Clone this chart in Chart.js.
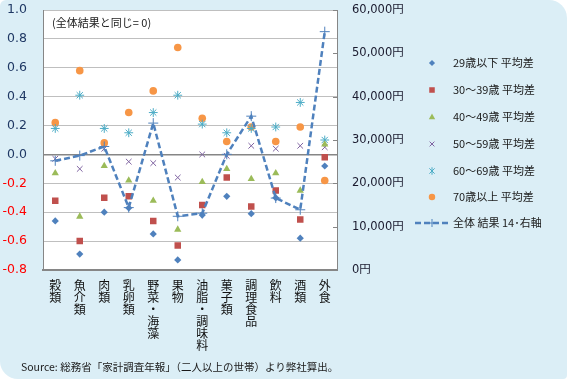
<!DOCTYPE html>
<html>
<head>
<meta charset="utf-8">
<script src="https://cdn.jsdelivr.net/npm/chart.js@4/dist/chart.umd.min.js"></script>
<style>
  html, body { margin: 0; padding: 0; background: #ffffff; }
  #wrap {
    position: relative; width: 567px; height: 379px;
    background: #dbeef6;
    border-radius: 6px 18px 4px 18px;
    overflow: hidden;
  }
  #c { position: absolute; left: 0; top: 0; }
  .txt { position: absolute; font-family: "Noto Sans CJK JP", sans-serif; color: #1a1a1a; white-space: nowrap; }
</style>
</head>
<body>
<div id="wrap">
  <canvas id="c" width="567" height="379"></canvas>
  <div class="txt" style="left:52px; top:14px; font-size:11px;">(全体結果と同じ= 0)</div>
  <div class="txt" style="left:21px; top:359px; font-size:10.5px;">Source: 総務省「家計調査年報」（二人以上の世帯）より弊社算出。</div>
</div>
<script>
const categories = ['穀類', '魚介類', '肉類', '乳卵類', '野菜・海藻', '果物', '油脂・調味料', '菓子類', '調理食品', '飲料', '酒類', '外食'];
const seriesNames = ['29歳以下 平均差', '30～39歳 平均差', '40～49歳 平均差', '50～59歳 平均差', '60～69歳 平均差', '70歳以上 平均差'];
const lineName = '全体 結果 14･右軸';
const age29 = [-0.46, -0.69, -0.40, -0.37, -0.55, -0.73, -0.42, -0.29, -0.41, -0.30, -0.58, -0.08];
const age30 = [-0.32, -0.60, -0.30, -0.29, -0.46, -0.63, -0.35, -0.16, -0.36, -0.25, -0.45, -0.02];
const age40 = [-0.13, -0.43, -0.08, -0.18, -0.32, -0.52, -0.19, -0.10, -0.17, -0.13, -0.25, 0.07];
const age50 = [-0.03, -0.10, 0.04, -0.05, -0.06, -0.16, 0.00, -0.01, 0.06, 0.04, 0.06, 0.05];
const age60 = [0.18, 0.41, 0.18, 0.15, 0.29, 0.41, 0.21, 0.15, 0.18, 0.19, 0.36, 0.10];
const age70 = [0.22, 0.58, 0.08, 0.29, 0.44, 0.74, 0.25, 0.09, 0.19, 0.09, 0.19, -0.18];
const totalYen = [25200, 26400, 28500, 14400, 33900, 12400, 13100, 26700, 35500, 16600, 13900, 55000];
const leftTicks = [-0.8, -0.6, -0.4, -0.2, 0.0, 0.2, 0.4, 0.6, 0.8, 1.0];
const rightTicks = [0, 10000, 20000, 30000, 40000, 50000, 60000];

const colors = ['#4f81bd', '#c0504d', '#9bbb59', '#8064a2', '#4bacc6', '#f79646'];
const styles = ['rectRot', 'rect', 'triangle', 'crossRot', 'star', 'circle'];
const radii = [3.6, 4.6, 4.2, 4, 4.4, 3.8];
const ageData = [age29, age30, age40, age50, age60, age70];

const labelsVertical = categories.map(s => s.split(''));

function drawMarker(ctx, style, x, y, r, color) {
  ctx.save();
  ctx.fillStyle = color; ctx.strokeStyle = color; ctx.lineWidth = 1;
  ctx.beginPath();
  if (style === 'rectRot') {
    ctx.moveTo(x, y - r); ctx.lineTo(x + r, y); ctx.lineTo(x, y + r); ctx.lineTo(x - r, y); ctx.closePath(); ctx.fill();
  } else if (style === 'rect') {
    const s = r * Math.SQRT1_2;
    ctx.rect(x - s, y - s, 2 * s, 2 * s); ctx.fill();
  } else if (style === 'triangle') {
    ctx.moveTo(x, y - r); ctx.lineTo(x + r * 0.9, y + r * 0.6); ctx.lineTo(x - r * 0.9, y + r * 0.6); ctx.closePath(); ctx.fill();
  } else if (style === 'crossRot') {
    const s = r * Math.SQRT1_2;
    ctx.moveTo(x - s, y - s); ctx.lineTo(x + s, y + s); ctx.moveTo(x + s, y - s); ctx.lineTo(x - s, y + s); ctx.stroke();
  } else if (style === 'star') {
    const s = r * Math.SQRT1_2;
    ctx.moveTo(x, y - r); ctx.lineTo(x, y + r);
    ctx.moveTo(x - s, y - s); ctx.lineTo(x + s, y + s); ctx.moveTo(x + s, y - s); ctx.lineTo(x - s, y + s); ctx.stroke();
  } else if (style === 'circle') {
    ctx.arc(x, y, r, 0, Math.PI * 2); ctx.fill();
  }
  ctx.restore();
}

const customPlugin = {
  id: 'custom',
  beforeDraw(chart) {
    const { ctx, chartArea: a } = chart;
    ctx.save();
    ctx.fillStyle = '#ffffff';
    ctx.fillRect(a.left, a.top, a.right - a.left, a.bottom - a.top);
    ctx.restore();
  },
  afterDraw(chart) {
    const { ctx, chartArea: a } = chart;
    const y1 = chart.scales.y1;
    ctx.save();
    ctx.strokeStyle = '#868686'; ctx.lineWidth = 1;
    y1.ticks.forEach(t => {
      const yy = Math.round(y1.getPixelForValue(t.value)) + 0.5;
      ctx.beginPath(); ctx.moveTo(a.right - 4, yy); ctx.lineTo(a.right, yy); ctx.stroke();
    });
    ctx.restore();
    const mx = 432, tx = 453;
    const ys = [63, 90, 117, 144, 171, 197, 223];
    ctx.save();
    ctx.font = '11px "Noto Sans CJK JP", sans-serif';
    ctx.textBaseline = 'middle';
    for (let i = 0; i < seriesNames.length; i++) {
      drawMarker(ctx, styles[i], mx, ys[i], radii[i] * 0.85, colors[i]);
      ctx.fillStyle = '#1a1a1a';
      ctx.fillText(seriesNames[i], tx, ys[i]);
    }
    const ly = ys[6];
    ctx.strokeStyle = '#4f81bd'; ctx.lineWidth = 2.5; ctx.setLineDash([6, 3]);
    ctx.beginPath(); ctx.moveTo(415, ly); ctx.lineTo(449, ly); ctx.stroke();
    ctx.setLineDash([]); ctx.lineWidth = 1;
    ctx.beginPath(); ctx.moveTo(mx - 4, ly); ctx.lineTo(mx + 4, ly); ctx.moveTo(mx, ly - 4); ctx.lineTo(mx, ly + 4); ctx.stroke();
    ctx.fillStyle = '#1a1a1a';
    ctx.fillText(lineName, tx, ly);
    ctx.restore();
  }
};

const datasets = [{
  label: lineName,
  data: totalYen,
  yAxisID: 'y1',
  borderColor: '#4f81bd',
  borderWidth: 2.5,
  borderDash: [6, 3],
  pointStyle: 'cross',
  pointRadius: 5,
  pointBorderWidth: 1,
  pointBorderColor: '#4f81bd',
  pointBackgroundColor: '#4f81bd',
  tension: 0,
  fill: false,
  order: 0
}];
for (let i = 0; i < 6; i++) {
  datasets.push({
    label: seriesNames[i],
    data: ageData[i],
    yAxisID: 'y',
    showLine: false,
    pointStyle: styles[i],
    pointRadius: radii[i],
    pointBorderWidth: (styles[i] === 'crossRot' || styles[i] === 'star') ? 1 : 0,
    pointBackgroundColor: colors[i],
    pointBorderColor: colors[i],
    order: 1
  });
}

new Chart(document.getElementById('c'), {
  type: 'line',
  data: { labels: labelsVertical, datasets },
  plugins: [customPlugin],
  options: {
    responsive: false,
    animation: false,
    devicePixelRatio: 1,
    layout: { padding: { top: 10, left: 0, right: 0, bottom: 0 } },
    plugins: { legend: { display: false }, tooltip: { enabled: false } },
    scales: {
      x: {
        offset: true,
        grid: { display: false, drawTicks: false, offset: true },
        border: { color: '#868686', width: 2 },
        ticks: {
          maxRotation: 0, minRotation: 0, autoSkip: false, padding: 9,
          color: '#111111',
          font: { family: '"Noto Sans CJK JP", sans-serif', size: 12, lineHeight: 1.0 }
        },
        afterFit(s) { s.height = 109; }
      },
      y: {
        position: 'left',
        min: -0.8, max: 1.0,
        afterBuildTicks(s) { s.ticks = leftTicks.map(v => ({ value: v })); },
        grid: {
          drawTicks: true,
          tickLength: 16,
          tickColor: 'rgba(0,0,0,0)',
          color: ctx => (ctx.tick && Math.abs(ctx.tick.value) < 1e-9) ? '#868686' : '#bfbfbf',
          lineWidth: ctx => (ctx.tick && Math.abs(ctx.tick.value) < 1e-9) ? 1.5 : 1
        },
        border: { color: '#868686', width: 1 },
        ticks: {
          padding: 0,
          callback: v => Number(v).toFixed(1),
          color: ctx => ctx.tick.value < -1e-9 ? '#ff0000' : '#1f3864',
          font: { family: '"DejaVu Sans", sans-serif', size: 12.5 }
        },
        afterFit(s) { s.width = 43; }
      },
      y1: {
        position: 'right',
        min: 0, max: 60000,
        afterBuildTicks(s) { s.ticks = rightTicks.map(v => ({ value: v })); },
        grid: { drawOnChartArea: false, drawTicks: true, tickLength: 15, tickColor: 'rgba(0,0,0,0)' },
        border: { color: '#868686', width: 1 },
        ticks: {
          padding: 0,
          callback: v => Number(v).toLocaleString('en-US') + '円',
          color: '#1a1a2e',
          font: { family: '"DejaVu Sans", "Noto Sans CJK JP", sans-serif', size: 11.5 }
        },
        afterFit(s) { s.width = 230; }
      }
    }
  }
});
</script>
</body>
</html>
